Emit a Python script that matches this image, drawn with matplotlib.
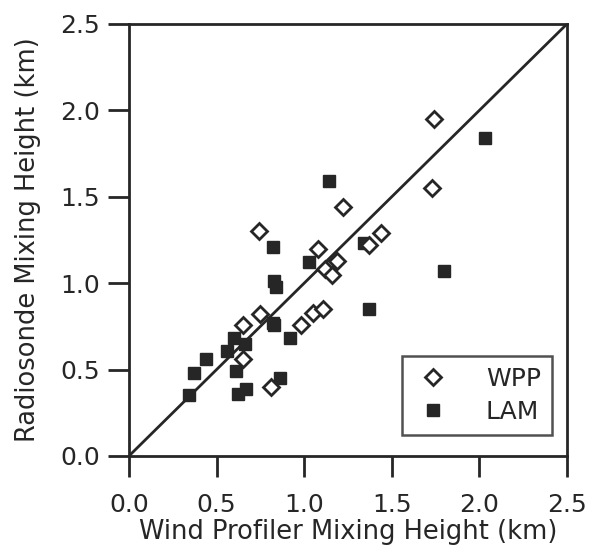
import matplotlib.pyplot as plt

# mixing heights (km): wind profiler (x) vs radiosonde (y)
wpp_x = [0.74, 1.08, 1.22, 1.19, 1.12, 1.16, 0.75, 0.65, 0.98, 1.05, 1.11,
         0.65, 0.81, 1.73, 1.44, 1.37, 1.74]
wpp_y = [1.30, 1.20, 1.44, 1.13, 1.08, 1.05, 0.82, 0.76, 0.76, 0.83, 0.85,
         0.56, 0.40, 1.55, 1.29, 1.22, 1.95]

lam_x = [1.14, 0.82, 1.03, 0.83, 0.84, 0.82, 0.83, 0.92, 0.60, 0.66, 0.56,
         0.44, 0.37, 0.61, 0.86, 0.34, 0.62, 0.67, 1.34, 1.80, 1.37, 2.03]
lam_y = [1.59, 1.21, 1.12, 1.01, 0.98, 0.77, 0.76, 0.68, 0.68, 0.65, 0.61,
         0.56, 0.48, 0.49, 0.45, 0.35, 0.36, 0.39, 1.23, 1.07, 0.85, 1.84]

ticks = [0.0, 0.5, 1.0, 1.5, 2.0, 2.5]
ink = '#262626'

plt.rcParams['font.family'] = 'DejaVu Sans'
fig = plt.figure(figsize=(5.89, 5.52), dpi=100)
ax = fig.add_axes([0.219, 0.174, 0.7436, 0.7826])

ax.plot([0, 2.5], [0, 2.5], color=ink, lw=2, zorder=1)
ax.plot(lam_x, lam_y, 's', ms=8, color=ink, mec=ink, label='LAM', zorder=2)
ax.plot(wpp_x, wpp_y, 'D', ms=8, mfc='white', mec=ink, mew=2, label='WPP', zorder=3)

ax.set_xlim(0, 2.5)
ax.set_ylim(0, 2.5)
ax.set_xticks(ticks)
ax.set_yticks(ticks)
ax.set_xticklabels(['%.1f' % t for t in ticks])
ax.set_yticklabels(['%.1f' % t for t in ticks])
ax.tick_params(direction='out', length=15, width=2, colors=ink, labelsize=18)
ax.tick_params(axis='x', pad=12)
ax.tick_params(axis='y', pad=6)
for s in ax.spines.values():
    s.set_linewidth(2)
    s.set_color(ink)

ax.set_xlabel('Wind Profiler Mixing Height (km)', fontsize=18.5, color=ink, labelpad=1)
ax.set_ylabel('Radiosonde Mixing Height (km)', fontsize=18.5, color=ink, labelpad=14)

h, l = ax.get_legend_handles_labels()
leg = ax.legend(h[::-1], l[::-1], loc='lower right', bbox_to_anchor=(0.966, 0.049),
                fontsize=18, frameon=True, fancybox=False, borderpad=0.45,
                labelspacing=0.35, handlelength=1.6, handletextpad=1.3,
                borderaxespad=0)
leg.get_frame().set_edgecolor(ink)
leg.get_frame().set_linewidth(1.8)
for t in leg.get_texts():
    t.set_color(ink)

fig.savefig('out.png', dpi=100)
